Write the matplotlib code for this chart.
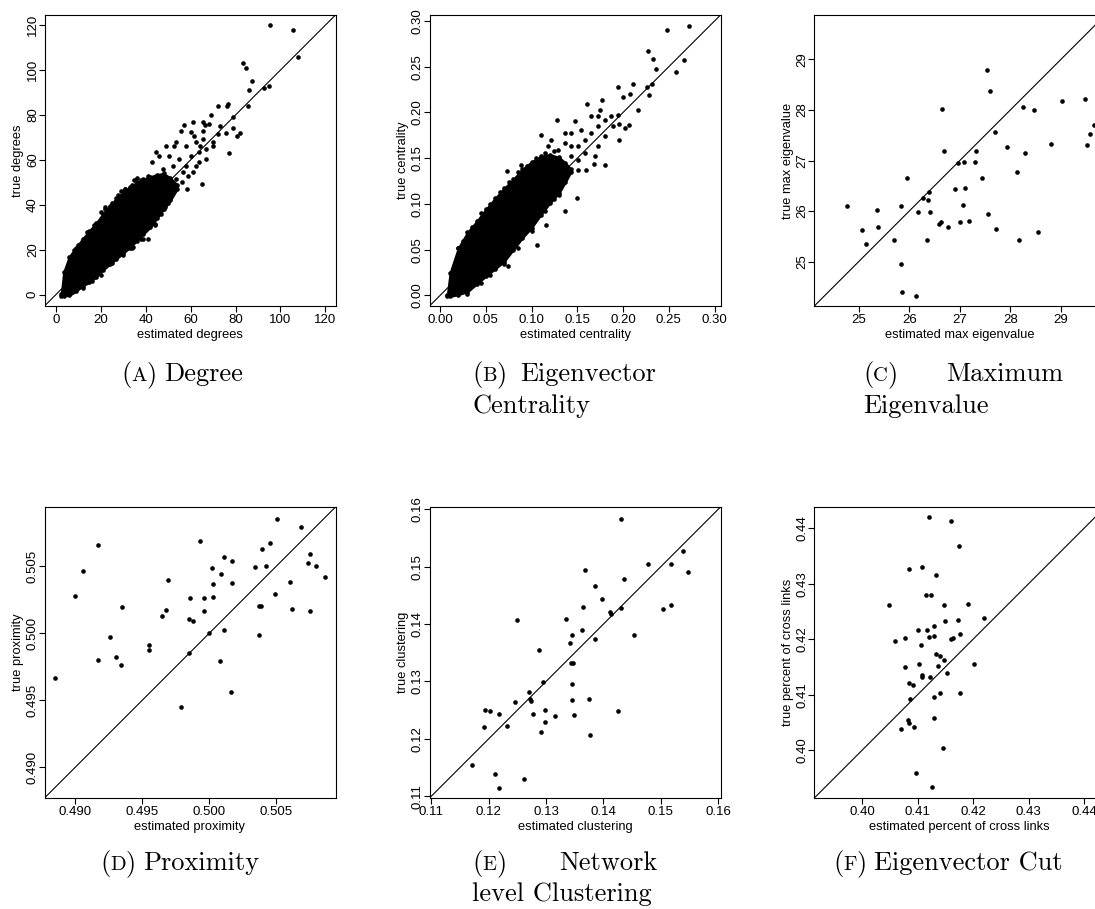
"""
Six scatter plots comparing estimated network statistics against their
true values, each with the y = x reference line.
"""
import matplotlib
matplotlib.use("Agg")

import matplotlib.pyplot as plt
from matplotlib.ticker import FormatStrFormatter

_W, _H = 1095, 909
_OUT = 'out.png'

# (A) Degree: solid core of the cloud (outline) plus the loose points
DEG_CORE_X = [2.5, 3.5, 6, 9, 12, 15, 18, 21, 24, 27, 30, 33, 36, 39, 42, 45, 48, 51, 54]
DEG_CORE_HI = [0.5, 10, 17, 21, 25, 28.5, 32, 36, 39.5, 43, 45.5, 48, 50, 51.5, 52.5,
               53.5, 54, 52, 49]
DEG_CORE_LO = [-0.4, -0.4, -0.3, 1.5, 4, 5.5, 8, 11, 13.5, 16, 18.5, 21, 24, 27, 30,
               34, 38, 42, 47]
DEG_EST = [95.2, 105.4, 107.7, 83.4, 84.6, 87.4, 86.1, 92.6, 94.7, 85.5, 76.3, 76.7,
           72.1, 78.7, 78.8, 69.1, 65.7, 61.3, 66.5, 68.0, 75.8, 72.0, 80.7, 82.2,
           76.9, 65.1, 58.4, 60.4, 55.8, 57.2, 52.6, 42.7, 48.8, 40.9, 37.9, 34.2,
           44.2, 58.0, 62.5, 63.9, 66.9, 60.2, 55.0, 58.0, 62.5, 63.9, 50.6, 52.0,
           56.5, 47.6, 46.1, 44.6, 49.0, 53.5, 65.4, 69.9, 66.9, 69.9, 61.0, 53.5,
           61.7, 65.4, 72.9, 64.0, 36.0, 31.0, 27.5, 22.0,
           8, 10, 14, 17, 20, 22, 25, 28, 29, 31, 34, 35, 38, 41,
           12, 16, 20, 25, 30, 34, 39, 44, 47, 50, 56, 59]
DEG_TRUE = [120.0, 118.0, 105.9, 103.1, 100.9, 95.1, 91.0, 92.0, 92.9, 83.8, 84.1, 84.7,
            84.0, 78.9, 74.0, 80.0, 76.9, 77.0, 75.5, 76.0, 72.0, 71.7, 70.8, 72.0,
            63.1, 49.1, 46.9, 72.6, 73.0, 75.5, 66.3, 59.0, 38.9, 24.9, 24.9, 21.1,
            31.5, 66.3, 67.8, 63.4, 64.8, 61.9, 60.4, 57.4, 57.4, 58.9, 61.9, 57.4,
            54.5, 55.9, 61.9, 63.4, 66.3, 67.8, 69.3, 66.3, 60.4, 67.8, 54.5, 51.5,
            70.8, 73.0, 75.2, 66.3, 52.0, 47.0, 44.5, 39.0,
            20, 22, 28, 31, 37, 38, 41, 44, 46, 47, 49, 51, 51, 53,
            3, 6, 9, 14, 17.5, 21, 25, 31, 36, 41, 50, 53]

# (B) Eigenvector centrality
CEN_CORE_X = [0.008, 0.011, 0.02, 0.03, 0.04, 0.05, 0.06, 0.07, 0.08, 0.09, 0.10,
              0.11, 0.12, 0.13, 0.137, 0.143]
CEN_CORE_HI = [0.001, 0.025, 0.052, 0.069, 0.081, 0.094, 0.106, 0.117, 0.127, 0.138,
               0.146, 0.152, 0.154, 0.151, 0.145, 0.138]
CEN_CORE_LO = [-0.001, -0.001, 0.001, 0.004, 0.0125, 0.021, 0.029, 0.037, 0.050, 0.063,
               0.074, 0.088, 0.101, 0.112, 0.124, 0.135]
CEN_EST = [0.2716, 0.2484, 0.2662, 0.2273, 0.2331, 0.2364, 0.2582, 0.2316, 0.2265,
           0.2280, 0.2113, 0.1945, 0.2000, 0.2080, 0.2160, 0.2062, 0.2018, 0.1953,
           0.1953, 0.1771, 0.1611, 0.1753, 0.1280, 0.1473, 0.1102, 0.0880, 0.0727,
           0.1065, 0.1498, 0.1364, 0.1156, 0.1680, 0.1800, 0.1600, 0.1509, 0.0200,
           0.0535, 0.0745, 0.151, 0.158, 0.165, 0.1727, 0.180, 0.1727, 0.1655, 0.1873,
           0.180, 0.1727, 0.158, 0.1436, 0.1364, 0.129, 0.1545, 0.1436, 0.1364, 0.169,
           0.189, 0.1945, 0.1218, 0.118, 0.1436, 0.151,
           0.025, 0.035, 0.045, 0.055, 0.065, 0.075, 0.085, 0.095, 0.105, 0.115, 0.125,
           0.03, 0.045, 0.055, 0.07, 0.085, 0.10, 0.115, 0.125, 0.13]
CEN_TRUE = [0.2942, 0.2898, 0.2577, 0.2676, 0.2588, 0.2475, 0.2443, 0.2315, 0.2279,
            0.2187, 0.2311, 0.2279, 0.2166, 0.2198, 0.2027, 0.1867, 0.1830, 0.1870,
            0.1695, 0.2133, 0.2093, 0.2031, 0.1921, 0.1903, 0.1757, 0.1422, 0.1356,
            0.0554, 0.1065, 0.0919, 0.0773, 0.1440, 0.1429, 0.1374, 0.1374, 0.0520,
            0.0237, 0.0317, 0.163, 0.170, 0.1775, 0.1848, 0.192, 0.1958, 0.1958, 0.1958,
            0.1739, 0.163, 0.1557, 0.152, 0.1666, 0.1593, 0.1812, 0.1775, 0.1775, 0.152,
            0.1848, 0.1976, 0.1702, 0.163, 0.163, 0.1484,
            0.060, 0.075, 0.090, 0.100, 0.113, 0.124, 0.135, 0.142, 0.150, 0.156, 0.158,
            0.002, 0.014, 0.022, 0.034, 0.052, 0.070, 0.092, 0.105, 0.110]

# (C) Maximum eigenvalue
EIG_EST = [24.77, 25.07, 25.15, 25.37, 25.39, 25.69, 25.83, 25.84, 25.86, 25.95,
           26.14, 26.17, 26.28, 26.35, 26.37, 26.40, 26.42, 26.59, 26.62, 26.64,
           26.68, 26.76, 26.91, 26.96, 27.01, 27.07, 27.09, 27.11, 27.18, 27.30,
           27.32, 27.43, 27.53, 27.56, 27.59, 27.70, 27.71, 27.93, 28.14, 28.18,
           28.26, 28.29, 28.46, 28.54, 28.80, 29.03, 29.47, 29.51, 29.57, 29.66]
EIG_TRUE = [26.10, 25.63, 25.34, 26.03, 25.69, 25.43, 24.96, 26.09, 24.39, 26.65,
            24.32, 25.98, 26.26, 25.43, 26.22, 26.38, 25.99, 25.75, 25.78, 28.02,
            27.18, 25.69, 26.44, 26.96, 25.79, 26.12, 26.98, 26.45, 25.80, 26.98,
            27.18, 26.65, 28.79, 25.95, 28.37, 27.56, 25.64, 27.26, 26.77, 25.43,
            28.05, 27.14, 28.00, 25.59, 27.32, 28.17, 28.22, 27.31, 27.53, 27.71]

# (D) Proximity
PROX_EST = [0.48848, 0.49000, 0.49057, 0.49172, 0.49172, 0.49257, 0.49306, 0.49344,
            0.49349, 0.49548, 0.49548, 0.49648, 0.49678, 0.49690, 0.49790, 0.49850,
            0.49847, 0.49857, 0.49880, 0.49927, 0.49957, 0.49957, 0.49997, 0.50019,
            0.50029, 0.50029, 0.50079, 0.50084, 0.50106, 0.50106, 0.50161, 0.50166,
            0.50171, 0.50338, 0.50373, 0.50368, 0.50388, 0.50390, 0.50425, 0.50448,
            0.50488, 0.50503, 0.50597, 0.50615, 0.50682, 0.50734, 0.50747, 0.50752,
            0.50792, 0.50861]
PROX_TRUE = [0.49663, 0.50279, 0.50465, 0.50654, 0.49797, 0.49974, 0.49820, 0.49765,
             0.50195, 0.49909, 0.49872, 0.50130, 0.50175, 0.50396, 0.49445, 0.50103,
             0.49852, 0.50259, 0.50093, 0.50684, 0.50259, 0.50167, 0.50001, 0.50485,
             0.50363, 0.50272, 0.49790, 0.50438, 0.50567, 0.50021, 0.49561, 0.50537,
             0.50373, 0.50495, 0.49983, 0.50202, 0.50202, 0.50629, 0.50497, 0.50669,
             0.50294, 0.50850, 0.50381, 0.50177, 0.50791, 0.50525, 0.50162, 0.50589,
             0.50500, 0.50421]

# (E) Network level clustering
CLUS_EST = [0.11715, 0.12105, 0.12186, 0.12616, 0.11924, 0.11942, 0.12017, 0.12174,
            0.12320, 0.12459, 0.12500, 0.12703, 0.12727, 0.12744, 0.12779, 0.12878,
            0.12919, 0.12953, 0.12988, 0.12983, 0.13163, 0.13355, 0.13413, 0.13430,
            0.13471, 0.13448, 0.13448, 0.13459, 0.13494, 0.13622, 0.13645, 0.13680,
            0.13750, 0.13762, 0.13849, 0.13855, 0.13977, 0.14122, 0.14128, 0.14256,
            0.14308, 0.14314, 0.14366, 0.14535, 0.14779, 0.15041, 0.15174, 0.15180,
            0.15395, 0.15471]
CLUS_TRUE = [0.11545, 0.11383, 0.11139, 0.11307, 0.12201, 0.12502, 0.12479, 0.12439,
             0.12218, 0.12647, 0.14063, 0.12810, 0.12688, 0.12653, 0.12439, 0.13546,
             0.12114, 0.12984, 0.12508, 0.12299, 0.12404, 0.14080, 0.13668, 0.13326,
             0.13326, 0.12955, 0.13807, 0.12671, 0.12415, 0.13894, 0.14306, 0.14939,
             0.12700, 0.12061, 0.14672, 0.13738, 0.14445, 0.14202, 0.14173, 0.12485,
             0.14277, 0.15832, 0.14788, 0.13802, 0.15043, 0.14260, 0.15043, 0.14341,
             0.15275, 0.14915]

# (F) Eigenvector cut
CUT_EST = [0.41209, 0.41594, 0.41744, 0.40842, 0.41083, 0.41329, 0.41149, 0.41245,
           0.40481, 0.41480, 0.41901, 0.42190, 0.41732, 0.41492, 0.41293, 0.41005,
           0.41161, 0.41762, 0.41293, 0.41203, 0.40770, 0.40602, 0.41065, 0.41636,
           0.41594, 0.41335, 0.41408, 0.41480, 0.41023, 0.40770, 0.41371, 0.42015,
           0.41083, 0.41083, 0.41221, 0.41534, 0.40848, 0.40920, 0.40860, 0.41287,
           0.41396, 0.41768, 0.41293, 0.40836, 0.40842, 0.40704, 0.40938, 0.41456,
           0.40974, 0.41257]
CUT_TRUE = [0.44199, 0.44132, 0.43681, 0.43260, 0.43308, 0.43152, 0.42797, 0.42797,
            0.42623, 0.42623, 0.42641, 0.42376, 0.42346, 0.42334, 0.42244, 0.42159,
            0.42159, 0.42099, 0.42063, 0.42033, 0.42027, 0.41961, 0.41901, 0.42027,
            0.41997, 0.41732, 0.41690, 0.41630, 0.41546, 0.41498, 0.41516, 0.41558,
            0.41359, 0.41317, 0.41311, 0.41389, 0.41215, 0.41167, 0.40926, 0.40962,
            0.41035, 0.41029, 0.40577, 0.40553, 0.40487, 0.40385, 0.40415, 0.40042,
            0.39585, 0.39332]

DEG_TICKS = [0, 20, 40, 60, 80, 100, 120]
CEN_TICKS = [0.00, 0.05, 0.10, 0.15, 0.20, 0.25, 0.30]
EIG_TICKS = [25, 26, 27, 28, 29]
PROX_TICKS = [0.490, 0.495, 0.500, 0.505]
CLUS_TICKS = [0.11, 0.12, 0.13, 0.14, 0.15, 0.16]
CUT_TICKS = [0.40, 0.41, 0.42, 0.43, 0.44]

_SANS = 'Liberation Sans'
_SERIF = 'cmr10'
_DOT = 11


def px_axes(fig, left, top, size):
  """Adds square axes given in pixel coordinates from the top-left corner."""
  return fig.add_axes([left / _W, 1 - (top + size) / _H, size / _W, size / _H])


def setup(ax, lims, ticks, fmt, xlabel, ylabel):
  """R style box, ticks and labels, plus the y = x line."""
  ax.set_xlim(lims)
  ax.set_ylim(lims)
  ax.set_xticks(ticks)
  ax.set_yticks(ticks)
  ax.xaxis.set_major_formatter(FormatStrFormatter(fmt))
  ax.yaxis.set_major_formatter(FormatStrFormatter(fmt))
  ax.axline((lims[0], lims[0]), slope=1, color='black', lw=0.8, zorder=1)
  ax.tick_params(length=4, width=0.8, labelsize=9.5, direction='out')
  ax.tick_params(axis='x', pad=2)
  ax.tick_params(axis='y', pad=0)
  for lbl in ax.get_xticklabels() + ax.get_yticklabels():
    lbl.set_fontfamily(_SANS)
  for lbl in ax.get_yticklabels():
    lbl.set_rotation(90)
    lbl.set_va('center')
  for spine in ax.spines.values():
    spine.set_linewidth(0.8)
  ax.set_xlabel(xlabel, fontsize=9.3, family=_SANS, labelpad=2)
  ax.set_ylabel(ylabel, fontsize=9.3, family=_SANS, labelpad=2)


def dense_panel(ax, core_x, core_lo, core_hi, xs, ys):
  ax.fill_between(core_x, core_lo, core_hi, color='black', lw=1.5,
                  edgecolor='black', zorder=2)
  ax.scatter(core_x + core_x, core_lo + core_hi, s=_DOT, c='black', lw=0, zorder=3)
  ax.scatter(xs, ys, s=_DOT, c='black', lw=0, zorder=3)


def caption(fig, renderer, x, y, letter, words, fs=19, right=None):
  """Draws '(X) words' with a small caps letter at pixel position x, baseline y."""
  yf = 1 - y / _H
  cur = x
  for piece, size in (('(', fs), (letter, fs * 0.78), (')', fs)):
    t = fig.text(cur / _W, yf, piece, fontsize=size, family=_SERIF, va='baseline')
    cur = t.get_window_extent(renderer).x1
  if right is None:
    fig.text((cur + 7) / _W, yf, words, fontsize=fs, family=_SERIF, va='baseline')
  else:
    fig.text(right / _W, yf, words, fontsize=fs, family=_SERIF, va='baseline',
             ha='right')


def line(fig, x, y, words, fs=19):
  fig.text(x / _W, 1 - y / _H, words, fontsize=fs, family=_SERIF, va='baseline')


def draw_graph():
  fig = plt.figure(figsize=(_W / 100, _H / 100), dpi=100)

  ax = px_axes(fig, 44.5, 15, 291)
  dense_panel(ax, DEG_CORE_X, DEG_CORE_LO, DEG_CORE_HI, DEG_EST, DEG_TRUE)
  setup(ax, (-5, 124.5), DEG_TICKS, '%d', 'estimated degrees', 'true degrees')

  ax = px_axes(fig, 429.5, 15, 291)
  dense_panel(ax, CEN_CORE_X, CEN_CORE_LO, CEN_CORE_HI, CEN_EST, CEN_TRUE)
  setup(ax, (-0.0115, 0.3065), CEN_TICKS, '%.2f', 'estimated centrality',
        'true centrality')

  ax = px_axes(fig, 814.3, 15, 291)
  ax.scatter(EIG_EST, EIG_TRUE, s=_DOT, c='black', lw=0, zorder=3)
  setup(ax, (24.12, 29.88), EIG_TICKS, '%d', 'estimated max eigenvalue',
        'true max eigenvalue')

  ax = px_axes(fig, 44.5, 507, 291)
  ax.scatter(PROX_EST, PROX_TRUE, s=_DOT, c='black', lw=0, zorder=3)
  setup(ax, (0.4877, 0.5094), PROX_TICKS, '%.3f', 'estimated proximity',
        'true proximity')

  ax = px_axes(fig, 429.5, 507, 291)
  ax.scatter(CLUS_EST, CLUS_TRUE, s=_DOT, c='black', lw=0, zorder=3)
  setup(ax, (0.1097, 0.1604), CLUS_TICKS, '%.2f', 'estimated clustering',
        'true clustering')

  ax = px_axes(fig, 814.3, 507, 291)
  ax.scatter(CUT_EST, CUT_TRUE, s=_DOT, c='black', lw=0, zorder=3)
  setup(ax, (0.3914, 0.4438), CUT_TICKS, '%.2f',
        'estimated percent of cross links', 'true percent of cross links')

  renderer = fig.canvas.get_renderer()
  caption(fig, renderer, 121, 381, 'A', 'Degree')
  caption(fig, renderer, 472, 381, 'B', 'Eigenvector', right=656)
  line(fig, 472, 413, 'Centrality')
  caption(fig, renderer, 863, 381, 'C', 'Maximum', right=1063)
  line(fig, 863, 413, 'Eigenvalue')
  caption(fig, renderer, 100, 870, 'D', 'Proximity')
  caption(fig, renderer, 472, 870, 'E', 'Network', right=657)
  line(fig, 472, 901, 'level Clustering')
  caption(fig, renderer, 833, 870, 'F', 'Eigenvector Cut')

  fig.savefig(_OUT, dpi=100)
  plt.close(fig)


if __name__ == "__main__":
  draw_graph()
